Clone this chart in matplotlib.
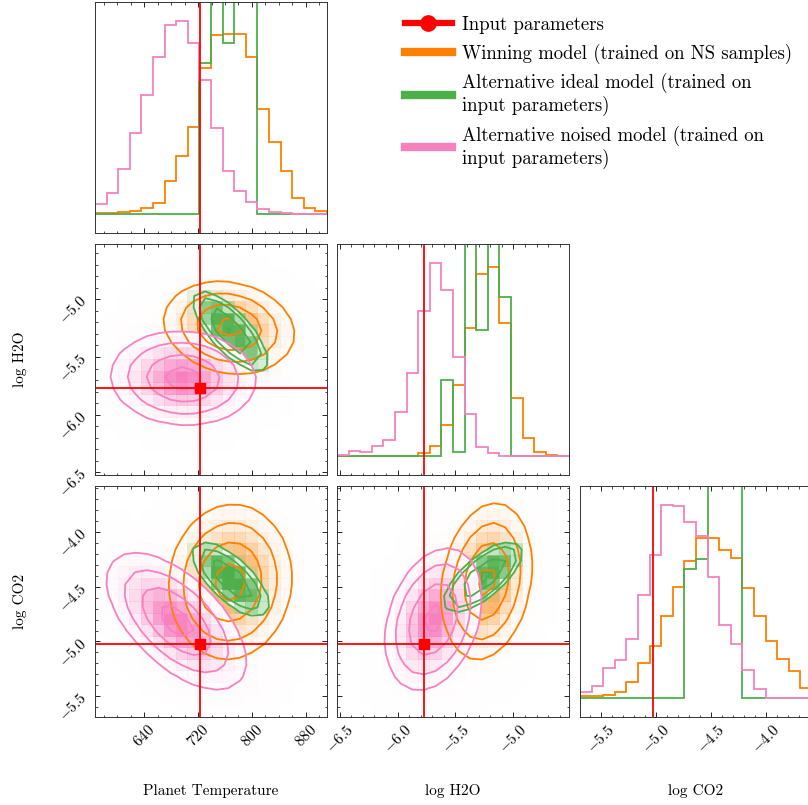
import numpy as np
import matplotlib
matplotlib.use("Agg")
import matplotlib.pyplot as plt
from matplotlib.colors import LinearSegmentedColormap
from matplotlib.ticker import AutoMinorLocator, MultipleLocator, NullLocator
from matplotlib.lines import Line2D

plt.rcParams.update({
    "font.family": "serif",
    "font.serif": ["cmr10"],
    "mathtext.fontset": "cm",
    "axes.formatter.use_mathtext": True,
    "xtick.direction": "in", "ytick.direction": "in",
    "xtick.top": True, "ytick.right": True,
    "xtick.major.size": 3.5, "ytick.major.size": 3.5,
    "xtick.minor.size": 1.8, "ytick.minor.size": 1.8,
    "xtick.major.width": 0.6, "ytick.major.width": 0.6,
    "xtick.minor.width": 0.5, "ytick.minor.width": 0.5,
    "axes.linewidth": 0.7,
    "axes.edgecolor": "#333333",
})

# ---------------- data ----------------
param_labels = ["Planet Temperature", "log H2O", "log CO2"]
param_ranges = [(567.2, 911.3), (-6.523, -4.52), (-5.69, -3.58)]
truths = [722.5, -5.768, -5.027]
major_steps = [80, 0.5, 0.5]

model_labels = ["Winning model (trained on NS samples)",
                "Alternative ideal model (trained on\ninput parameters)",
                "Alternative noised model (trained on\ninput parameters)"]
model_colors = ["#ff7f00", "#4daf4a", "#f781bf"]
truth_label = "Input parameters"
truth_color = "#ff0000"

# 1D marginal histograms (20 bins over each range, relative heights)
temp_win = [0.003, 0.006, 0.009, 0.013, 0.028, 0.050, 0.157, 0.274, 0.409, 0.688,
            0.843, 0.850, 0.850, 0.740, 0.496, 0.339, 0.202, 0.076, 0.028, 0.013]
temp_ideal = [0, 0, 0, 0, 0, 0, 0, 0, 0, 0.713, 1.3, 0.806, 1.3, 1.3, 0, 0, 0, 0, 0, 0]
temp_noised = [0.047, 0.098, 0.213, 0.381, 0.562, 0.740, 0.890, 0.910, 0.806, 0.630,
               0.406, 0.205, 0.107, 0.055, 0.024, 0.008, 0.003, 0.002, 0, 0]

h2o_win = [0, 0, 0, 0, 0, 0, 0, 0.013, 0.049, 0.144, 0.333, 0.606, 0.858, 0.890,
           0.628, 0.274, 0.085, 0.017, 0.006, 0.002]
h2o_ideal = [0, 0, 0, 0, 0, 0, 0, 0, 0, 0.360, 0.017, 1.3, 0.596, 1.3, 0.748, 0, 0, 0, 0, 0]
h2o_noised = [0.005, 0.022, 0.017, 0.049, 0.076, 0.207, 0.391, 0.685, 0.912, 0.782,
              0.467, 0.196, 0.041, 0.013, 0, 0, 0, 0, 0, 0]

co2_win = [0.006, 0.009, 0.014, 0.028, 0.072, 0.164, 0.242, 0.384, 0.522, 0.648,
           0.753, 0.753, 0.698, 0.659, 0.517, 0.387, 0.266, 0.184, 0.124, 0.046]
co2_ideal = [0, 0, 0, 0, 0, 0, 0, 0, 0, 0.607, 0.656, 1.3, 1.3, 1.3, 0, 0, 0, 0, 0, 0]
co2_noised = [0.025, 0.057, 0.140, 0.179, 0.277, 0.486, 0.675, 0.910, 0.906, 0.832,
              0.764, 0.569, 0.344, 0.253, 0.129, 0.041, 0, 0, 0, 0]

hist_ylow = [-0.0898, -0.0899, -0.0912]

# 2D posterior shapes: (mean_x, mean_y, scale_x, scale_y, corr, profile)
win_temp_h2o = [766.0, -5.245, 48.8, 0.201, -0.15, 1.0]
win_temp_co2 = [767.8, -4.455, 47.0, 0.365, 0.05, 1.0]
win_h2o_co2 = [-5.231, -4.45, 0.1995, 0.367, 0.2, 1.0]
ideal_temp_h2o = [767.8, -5.278, 46.6, 0.291, -0.75, 2.0]
ideal_temp_co2 = [768.5, -4.433, 47.2, 0.280, -0.70, 2.0]
ideal_h2o_co2 = [-5.263, -4.41, 0.289, 0.272, 0.70, 2.0]
noised_temp_h2o = [698.0, -5.684, 55.0, 0.2065, -0.05, 1.0]
noised_temp_co2 = [688.0, -4.816, 53.0, 0.320, -0.60, 1.0]
noised_h2o_co2 = [-5.691, -4.797, 0.2115, 0.331, 0.30, 1.0]

hist_data = [[temp_win, temp_ideal, temp_noised],
             [h2o_win, h2o_ideal, h2o_noised],
             [co2_win, co2_ideal, co2_noised]]
pair_data = {(1, 0): [win_temp_h2o, ideal_temp_h2o, noised_temp_h2o],
             (2, 0): [win_temp_co2, ideal_temp_co2, noised_temp_co2],
             (2, 1): [win_h2o_co2, ideal_h2o_co2, noised_h2o_co2]}

nbins = 20
sigma_levels = 1.0 - np.exp(-0.5 * np.array([0.5, 1.0, 1.5, 2.0]) ** 2)

# ---------------- layout ----------------
W, Hpx = 808, 805
fig = plt.figure(figsize=(W / 100, Hpx / 100), dpi=100)
col_x = [95, 337, 580]
row_y = [2, 244, 486]
aw, ah = 232, 231


def add_ax(r, c):
    x0 = col_x[c]
    y0 = row_y[r]
    return fig.add_axes([x0 / W, 1 - (y0 + ah) / Hpx, aw / W, ah / Hpx])


def grid_density(xr, yr, p):
    mx, my, sx, sy, rho, prof = p
    xe = np.linspace(xr[0], xr[1], nbins + 1)
    ye = np.linspace(yr[0], yr[1], nbins + 1)
    xc = 0.5 * (xe[1:] + xe[:-1])
    yc = 0.5 * (ye[1:] + ye[:-1])
    X, Y = np.meshgrid(xc, yc, indexing="ij")
    dx = (X - mx) / sx
    dy = (Y - my) / sy
    q = (dx ** 2 - 2 * rho * dx * dy + dy ** 2) / (1 - rho ** 2)
    H = np.exp(-0.5 * q ** prof)
    return xe, ye, xc, yc, H


def corner_hist2d(ax, xr, yr, p, color):
    xe, ye, xc, yc, H = grid_density(xr, yr, p)
    Hflat = np.sort(H.flatten())[::-1]
    sm = np.cumsum(Hflat)
    sm /= sm[-1]
    V = np.empty(len(sigma_levels))
    for i, v0 in enumerate(sigma_levels):
        sel = Hflat[sm <= v0]
        V[i] = sel[-1] if len(sel) else Hflat[0]
    V.sort()
    # padded grid as in corner
    H2 = H.min() + np.zeros((H.shape[0] + 4, H.shape[1] + 4))
    H2[2:-2, 2:-2] = H
    H2[2:-2, 1] = H[:, 0]
    H2[2:-2, -2] = H[:, -1]
    H2[1, 2:-2] = H[0]
    H2[-2, 2:-2] = H[-1]
    H2[1, 1] = H[0, 0]
    H2[1, -2] = H[0, -1]
    H2[-2, 1] = H[-1, 0]
    H2[-2, -2] = H[-1, -1]
    dxb = xc[1] - xc[0]
    dyb = yc[1] - yc[0]
    X2 = np.concatenate([xc[0] + np.array([-2, -1]) * dxb, xc, xc[-1] + np.array([1, 2]) * dxb])
    Y2 = np.concatenate([yc[0] + np.array([-2, -1]) * dyb, yc, yc[-1] + np.array([1, 2]) * dyb])
    white_cmap = LinearSegmentedColormap.from_list("w", [(1, 1, 1), (1, 1, 1)], N=2)
    ax.contourf(X2, Y2, H2.T, [V.min(), H.max()], cmap=white_cmap, antialiased=False)
    dens_cmap = LinearSegmentedColormap.from_list("d", [color, (1, 1, 1, 0)])
    ax.pcolor(xe, ye, H.max() - H.T, cmap=dens_cmap)
    ax.contour(X2, Y2, H2.T, V, colors=color, linewidths=1.3)


def style_ticks(ax, axis, i):
    loc = getattr(ax, axis + "axis")
    loc.set_major_locator(MultipleLocator(major_steps[i]))
    loc.set_minor_locator(AutoMinorLocator())


for r in range(3):
    for c in range(r + 1):
        ax = add_ax(r, c)
        ax.set_xlim(*param_ranges[c])
        style_ticks(ax, "x", c)
        if r == c:
            edges = np.linspace(param_ranges[c][0], param_ranges[c][1], nbins + 1)
            for vals, col in zip(hist_data[c], model_colors):
                ax.stairs(vals, edges, color=col, lw=1.3)
            ax.axvline(truths[c], color=truth_color, lw=1.3)
            ax.set_ylim(hist_ylow[c], 1.0)
            ax.yaxis.set_major_locator(NullLocator())
            ax.yaxis.set_minor_locator(NullLocator())
        else:
            ax.set_ylim(*param_ranges[r])
            style_ticks(ax, "y", r)
            for p, col in zip(pair_data[(r, c)], model_colors):
                corner_hist2d(ax, param_ranges[c], param_ranges[r], p, col)
            ax.axvline(truths[c], color=truth_color, lw=1.3)
            ax.axhline(truths[r], color=truth_color, lw=1.3)
            ax.plot(truths[c], truths[r], "s", color=truth_color, ms=6.5)
            ax.set_xlim(*param_ranges[c])
            ax.set_ylim(*param_ranges[r])
        if r == 2:
            for lab in ax.get_xticklabels():
                lab.set_rotation(45)
            ax.tick_params(axis="x", labelsize=11)
            ax.set_xlabel(param_labels[c], fontsize=11)
            ax.xaxis.set_label_coords(0.5, -0.29)
        else:
            ax.tick_params(axis="x", labelbottom=False)
        if c == 0 and r > 0:
            for lab in ax.get_yticklabels():
                lab.set_rotation(45)
            ax.tick_params(axis="y", labelsize=11)
            ax.set_ylabel(param_labels[r], fontsize=11)
            ax.yaxis.set_label_coords(-0.295, 0.5)
        elif r != c:
            ax.tick_params(axis="y", labelleft=False)

handles = [Line2D([], [], color=truth_color, lw=4.5, marker="o", ms=11)]
handles += [Line2D([], [], color=col, lw=6) for col in model_colors]
fig.legend(handles, [truth_label] + model_labels, loc="upper left",
           bbox_to_anchor=(405 / W, 1 - 16 / Hpx), frameon=False, fontsize=13.5,
           handlelength=2.5, handletextpad=0.55, labelspacing=0.5,
           borderpad=0, borderaxespad=0)

fig.savefig("out.png", dpi=100)
